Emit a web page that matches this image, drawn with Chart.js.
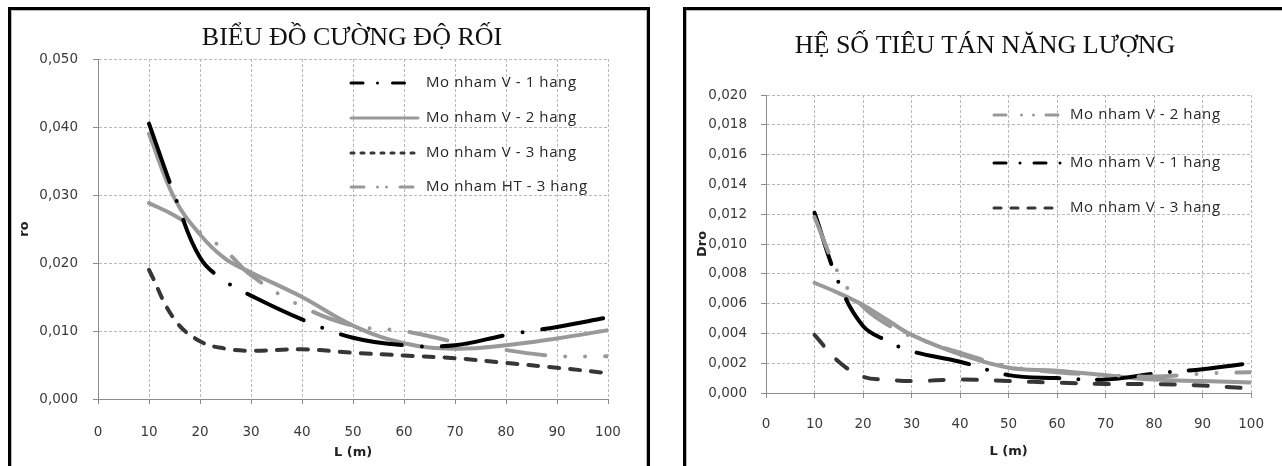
<!DOCTYPE html>
<html lang="vi">
<head>
<meta charset="utf-8">
<title>Cường độ rối và hệ số tiêu tán năng lượng</title>
<script src="https://cdn.jsdelivr.net/npm/chart.js@4.4.1/dist/chart.umd.min.js"></script>
<style>
  html, body { margin: 0; padding: 0; background: #fff; }
  body { position: relative; width: 1282px; height: 466px; overflow: hidden; }
  .frame {
    position: absolute;
    top: 7px;
    height: 480px;
    border: 3px solid #000;
    box-shadow: inset 0 0 0 1px #b8b8b8;
    background: #fff;
  }
  #frameLeft { left: 8px; width: 636px; }
  #frameRight { left: 683px; width: 640px; }
  canvas { position: absolute; top: 0; }
  #roChart { left: 0; }
  #droChart { left: 660px; }
</style>
</head>
<body>
<div class="frame" id="frameLeft"></div>
<div class="frame" id="frameRight"></div>
<canvas id="roChart" width="660" height="466"></canvas>
<canvas id="droChart" width="622" height="466"></canvas>

<script>
// Chieu dai L (m)
const L = [10, 15, 20, 25, 30, 40, 50, 60, 70, 80, 90, 100];

// Bieu do cuong do roi (ro)
const ro_V1 = [0.0405, 0.0300, 0.0208, 0.0173, 0.0152, 0.0117, 0.0090, 0.0079, 0.0079, 0.0094, 0.0106, 0.0120];
const ro_V2 = [0.0390, 0.0295, 0.0242, 0.0206, 0.0186, 0.0150, 0.0108, 0.0082, 0.0074, 0.0079, 0.0089, 0.0101];
const ro_V3 = [0.0190, 0.0117, 0.0085, 0.0074, 0.0071, 0.0073, 0.0068, 0.0064, 0.0060, 0.0053, 0.0046, 0.0038];
const ro_HT3 = [0.0288, 0.0270, 0.0245, 0.0218, 0.0182, 0.0136, 0.0108, 0.0100, 0.0084, 0.0072, 0.0063, 0.0063];

// He so tieu tan nang luong (Dro)
const dro_V2 = [0.0118, 0.0080, 0.0058, 0.0046, 0.0038, 0.0027, 0.0018, 0.0014, 0.0012, 0.0011, 0.0013, 0.0014];
const dro_V1 = [0.0121, 0.0074, 0.0045, 0.0035, 0.0028, 0.0021, 0.0012, 0.0010, 0.0009, 0.0013, 0.0016, 0.0020];
const dro_V3 = [0.0039, 0.0021, 0.0011, 0.0009, 0.0008, 0.0009, 0.0008, 0.0007, 0.0006, 0.0006, 0.0005, 0.0003];
const dro_extra = [0.0074, 0.0067, 0.0059, 0.0049, 0.0039, 0.0026, 0.0017, 0.0015, 0.0012, 0.0009, 0.0008, 0.0007];

// Truc
const xTicks = [0, 10, 20, 30, 40, 50, 60, 70, 80, 90, 100];
const xTickLabels = ["0", "10", "20", "30", "40", "50", "60", "70", "80", "90", "100"];
const roTicks = [0, 0.01, 0.02, 0.03, 0.04, 0.05];
const roTickLabels = ["0,000", "0,010", "0,020", "0,030", "0,040", "0,050"];
const droTicks = [0, 0.002, 0.004, 0.006, 0.008, 0.01, 0.012, 0.014, 0.016, 0.018, 0.02];
const droTickLabels = ["0,000", "0,002", "0,004", "0,006", "0,008", "0,010", "0,012", "0,014", "0,016", "0,018", "0,020"];

const BLACK = "#000000";
const GRAY = "#999999";
const DARK = "#363636";

function points(xs, ys) {
  return xs.map((x, i) => ({ x: x, y: ys[i] }));
}

function series(label, values, color, dash, legendDash) {
  return {
    label: label,
    data: points(L, values),
    borderColor: color,
    borderDash: dash,
    legendDash: legendDash,
    borderWidth: 4,
    borderCapStyle: "round",
    borderJoinStyle: "round",
    pointRadius: 0,
    tension: 0.4,
    fill: false,
  };
}

// Tieu de + chu thich ve tren canvas
const sheetText = {
  id: "sheetText",
  afterDraw(chart, args, opts) {
    const ctx = chart.ctx;
    ctx.save();
    ctx.fillStyle = "#111";
    ctx.font = '26px "Liberation Serif"';
    ctx.textAlign = "center";
    ctx.textBaseline = "alphabetic";
    ctx.fillText(opts.title, opts.titleX, opts.titleY);

    const items = chart.data.datasets.filter((d) => d.legendDash);
    items.forEach((d, i) => {
      const y = opts.legendY[i];
      ctx.strokeStyle = d.borderColor;
      ctx.lineWidth = 3;
      ctx.lineCap = "round";
      ctx.setLineDash(d.legendDash);
      ctx.beginPath();
      ctx.moveTo(opts.legendX, y);
      ctx.lineTo(opts.legendX + 67, y);
      ctx.stroke();

      ctx.setLineDash([]);
      ctx.fillStyle = "#262626";
      ctx.font = '15px "Open Sans"';
      ctx.letterSpacing = "0.6px";
      ctx.textAlign = "left";
      ctx.textBaseline = "middle";
      ctx.fillText(d.label, opts.textX, y);
      ctx.letterSpacing = "0px";
    });
    ctx.restore();
  },
};

function axes(yTicks, yLabels, yMax, yTitle, o) {
  const tickFont = { family: "DejaVu Sans", size: 13.5 };
  const titleFont = { family: "DejaVu Sans", size: 13, weight: "bold" };
  const grid = { color: "#b9b9b9", tickLength: 5, tickColor: "#8c8c8c", tickBorderDash: [] };
  const border = { color: "#8c8c8c", dash: [3, 2] };
  return {
    x: {
      type: "linear",
      min: 0,
      max: 100,
      afterBuildTicks: (s) => { s.ticks = xTicks.map((v) => ({ value: v })); },
      afterFit: (s) => { s.height = o.xHeight; },
      ticks: {
        autoSkip: false,
        maxRotation: 0,
        padding: o.xPad,
        color: "#3a3a3a",
        font: tickFont,
        callback: (v, i) => xTickLabels[i],
      },
      grid: grid,
      border: border,
      title: { display: true, text: "L (m)", color: "#222", font: titleFont, padding: { top: 0, bottom: o.xTitlePad } },
    },
    y: {
      type: "linear",
      min: 0,
      max: yMax,
      afterBuildTicks: (s) => { s.ticks = yTicks.map((v) => ({ value: v })); },
      afterFit: (s) => { s.width = o.yWidth; },
      ticks: {
        autoSkip: false,
        padding: o.yPad,
        color: "#3a3a3a",
        font: tickFont,
        callback: (v, i) => yLabels[i],
      },
      grid: grid,
      border: border,
      title: { display: true, text: yTitle, color: "#222", font: titleFont, padding: { top: o.yTitlePad, bottom: 0 } },
    },
  };
}

document.addEventListener("DOMContentLoaded", function () {
  // Bieu do cuong do roi
  new Chart(document.getElementById("roChart"), {
    type: "line",
    data: {
      datasets: [
        series("Mo nham V - 1 hang", ro_V1, BLACK, [62, 20, 0, 20], [12, 14.5, 0, 15]),
        series("Mo nham V - 2 hang", ro_V2, GRAY, [], []),
        series("Mo nham V - 3 hang", ro_V3, DARK, [10, 11], [3, 7]),
        series("Mo nham HT - 3 hang", ro_HT3, GRAY, [39, 20, 0, 20, 0, 20], [13, 13.5, 0, 9, 0, 13.5]),
      ],
    },
    options: {
      responsive: false,
      animation: false,
      layout: { padding: { top: 59, right: 52, bottom: 0, left: 0 } },
      plugins: {
        legend: { display: false },
        tooltip: { enabled: false },
        sheetText: {
          title: "BIỂU ĐỒ CƯỜNG ĐỘ RỐI",
          titleX: 352, titleY: 45,
          legendX: 351, textX: 426,
          legendY: [83, 118, 153, 187],
        },
      },
      scales: axes(roTicks, roTickLabels, 0.05, "ro", {
        xHeight: 67, xPad: 20, xTitlePad: 6, yWidth: 98, yPad: 15, yTitlePad: 17,
      }),
    },
    plugins: [sheetText],
  });

  // He so tieu tan nang luong
  new Chart(document.getElementById("droChart"), {
    type: "line",
    data: {
      datasets: [
        series("Mo nham V - 2 hang", dro_V2, GRAY, [38, 20, 0, 20, 0, 20], [12, 15.5, 0, 12, 0, 12.5]),
        series("Mo nham V - 1 hang", dro_V1, BLACK, [54, 19, 0, 19], [12, 14, 0, 14]),
        series("Mo nham V - 3 hang", dro_V3, DARK, [14, 19], [7, 10]),
        series("", dro_extra, GRAY, [], null),
      ],
    },
    options: {
      responsive: false,
      animation: false,
      layout: { padding: { top: 95, right: 29, bottom: 0, left: 0 } },
      plugins: {
        legend: { display: false },
        tooltip: { enabled: false },
        sheetText: {
          title: "HỆ SỐ TIÊU TÁN NĂNG LƯỢNG",
          titleX: 325, titleY: 53,
          legendX: 334, textX: 410,
          legendY: [115, 163, 208],
        },
      },
      scales: axes(droTicks, droTickLabels, 0.02, "Dro", {
        xHeight: 73, xPad: 18, xTitlePad: 7, yWidth: 106, yPad: 14, yTitlePad: 35,
      }),
    },
    plugins: [sheetText],
  });
});
</script>
</body>
</html>
